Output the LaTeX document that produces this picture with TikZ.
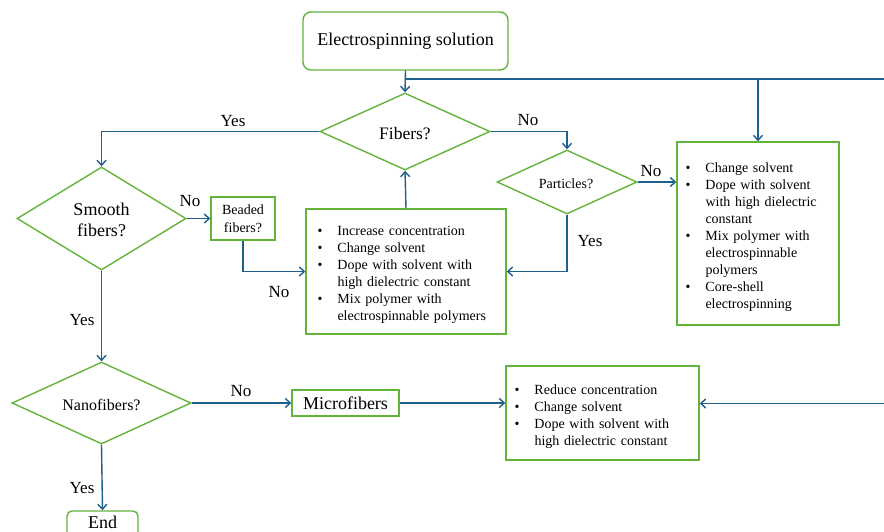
\documentclass[tikz,border=0pt]{standalone}
\usepackage{fontspec}
\setmainfont{Liberation Serif}
\usetikzlibrary{shapes.geometric,arrows.meta}
\definecolor{fgreen}{RGB}{100,180,60}
\definecolor{fblue}{RGB}{30,95,140}
\newcommand{\bitem}[1]{\makebox[20pt][l]{\textbullet}#1}
\newcommand{\bcont}[1]{\hspace*{20pt}#1}
\begin{document}
\begin{tikzpicture}[x=1pt,y=-1pt,
  gbox/.style={draw=fgreen, line width=1.4pt, fill=white, inner sep=0pt},
  dia/.style={diamond, draw=fgreen, line width=1.4pt, inner sep=0pt},
  conn/.style={draw=fblue, line width=1.4pt},
  arr/.style={conn, -{Straight Barb[length=5pt,width=9pt]}},
  lbl/.style={font=\fontsize{17}{20}\selectfont, inner sep=0pt},
  ttext/.style={inner sep=0pt, align=center},
  listbox/.style={gbox, align=left, font=\fontsize{14}{17}\selectfont}
]
\useasboundingbox (0,0) rectangle (884,531);
\clip (0,0) rectangle (884,531);
\fill[white] (0,0) rectangle (884,531);

% nodes
\node[gbox, rounded corners=8pt, minimum width=205pt, minimum height=58pt,
      font=\fontsize{18}{21}\selectfont] (top) at (405.5,41) {\raisebox{-2pt}{Electrospinning solution}};

\node[dia, minimum width=170pt, minimum height=77pt] (fib) at (405,131.5) {};
\node[ttext, font=\fontsize{17.5}{21}\selectfont] (fibT) at (405,134) {Fibers?};

\node[dia, minimum width=169pt, minimum height=103pt] (smooth) at (101.5,218.5) {};
\node[ttext, font=\fontsize{18}{21}\selectfont] (smoothT) at (101.5,220) {Smooth\\fibers?};

\node[gbox, minimum width=64pt, minimum height=43pt,
      font=\fontsize{14}{18}\selectfont, align=center] (bead) at (243,218.5) {Beaded\\fibers?};

\node[dia, minimum width=140pt, minimum height=64pt] (part) at (567,182) {};
\node[ttext, font=\fontsize{14}{17}\selectfont] (partT) at (566,184) {Particles?};

\node[listbox, minimum width=200pt, minimum height=125pt, text width=177pt,
      inner xsep=11.5pt] (mid) at (406,271.5)
  {\rule{0pt}{16pt}\bitem{Increase concentration}\\
   \bitem{Change solvent}\\
   \bitem{Dope with solvent with}\\
   \bcont{high dielectric constant}\\
   \bitem{Mix polymer with}\\
   \bcont{electrospinnable polymers}};

\node[listbox, minimum width=162pt, minimum height=183pt, text width=145pt,
      inner xsep=8.5pt] (rbox) at (758,233.5)
  {\rule{0pt}{18pt}\bitem{Change solvent}\\
   \bitem{Dope with solvent}\\
   \bcont{with high dielectric}\\
   \bcont{constant}\\
   \bitem{Mix polymer with}\\
   \bcont{electrospinnable}\\
   \bcont{polymers}\\
   \bitem{Core-shell}\\
   \bcont{electrospinning}};

\node[dia, minimum width=179pt, minimum height=82pt] (nano) at (101.5,403) {};
\node[ttext, font=\fontsize{16}{19}\selectfont] (nanoT) at (101.5,405) {Nanofibers?};

\node[gbox, minimum width=107pt, minimum height=26pt,
      font=\fontsize{18}{21}\selectfont] (micro) at (345.5,403) {Microfibers};

\node[listbox, minimum width=193pt, minimum height=94pt, text width=176pt,
      inner xsep=8.5pt] (bbox) at (602.5,413)
  {\rule{0pt}{17pt}\bitem{Reduce concentration}\\
   \bitem{Change solvent}\\
   \bitem{Dope with solvent with}\\
   \bcont{high dielectric constant}};

\node[gbox, rounded corners=5pt, minimum width=71pt, minimum height=28pt,
      font=\fontsize{18}{21}\selectfont] (end) at (102.5,525) {\raisebox{5pt}{End}};

% junction coordinates
\coordinate (j1) at (405.5,79);
\coordinate (j2) at (758,79);
\coordinate (jR) at (884,79);
\coordinate (jR2) at (884,403.5);

% connectors
\draw[arr] (top.south) -- (fib.north);
\draw[conn] (j1) -- (jR);
\draw[arr] (j2) -- (rbox.north);
\draw[arr] (fib.west) -| (smooth.north);
\draw[arr] (fib.east) -| (part.north);
\draw[arr] (smooth.east) -- (bead.west);
\draw[arr] (bead.south) |- (mid.west);
\draw[arr] (mid.north) -- (fib.south);
\draw[arr] (part.east) -- (part.east -| rbox.west);
\draw[arr] (part.south) |- (mid.east);
\draw[arr] (smooth.south) -- (nano.north);
\draw[arr] (nano.east) -- (micro.west);
\draw[arr] (micro.east) -- (micro.east -| bbox.west);
\draw[arr] (jR2) -- (jR2 -| bbox.east);
\draw[arr] (nano.south) -- (end.north);

% labels
\node[lbl] (l1) at (233,121) {Yes};
\node[lbl] (l2) at (528,120) {No};
\node[lbl] (l3) at (190,201) {No};
\node[lbl] (l4) at (279,292) {No};
\node[lbl] (l5) at (651,171) {No};
\node[lbl] (l6) at (590,241) {Yes};
\node[lbl] (l7) at (82,320) {Yes};
\node[lbl] (l8) at (241,391) {No};
\node[lbl] (l9) at (82,488) {Yes};
\end{tikzpicture}
\end{document}
